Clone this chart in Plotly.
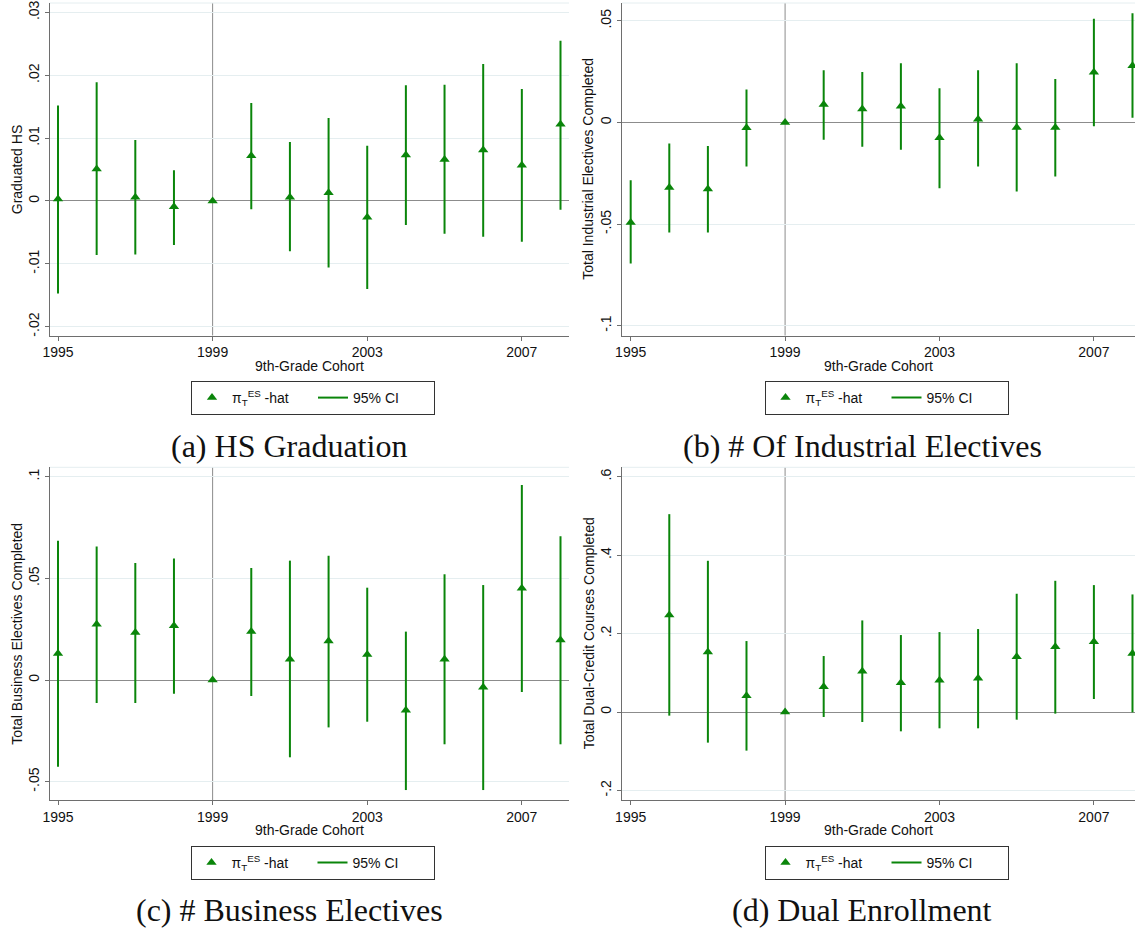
import plotly.graph_objects as go

# ---------------- data ----------------
years = [1995, 1996, 1997, 1998, 1999, 2000, 2001, 2002, 2003, 2004, 2005, 2006, 2007, 2008]
event_year = 1999

hs_est = [0.0003, 0.0051, 0.0006, -0.0009, 0.0, 0.0072, 0.0006, 0.0013, -0.0026, 0.0073, 0.0066, 0.0081, 0.0057, 0.0122]
hs_lo = [-0.0147, -0.0086, -0.0085, -0.0070, 0.0, -0.0013, -0.0080, -0.0106, -0.0140, -0.0038, -0.0052, -0.0057, -0.0065, -0.0014]
hs_hi = [0.0152, 0.0189, 0.0097, 0.0049, 0.0, 0.0156, 0.0094, 0.0132, 0.0088, 0.0184, 0.0185, 0.0218, 0.0178, 0.0255]

ind_est = [-0.0492, -0.0320, -0.0327, -0.0026, 0.0, 0.0088, 0.0067, 0.0080, -0.0075, 0.0016, -0.0025, -0.0025, 0.0247, 0.0279]
ind_lo = [-0.0694, -0.0541, -0.0541, -0.0217, 0.0, -0.0085, -0.0119, -0.0134, -0.0324, -0.0217, -0.0340, -0.0266, -0.0018, 0.0023]
ind_hi = [-0.0284, -0.0103, -0.0116, 0.0162, 0.0, 0.0257, 0.0248, 0.0292, 0.0168, 0.0257, 0.0291, 0.0214, 0.0511, 0.0537]

bus_est = [0.0131, 0.0274, 0.0234, 0.0267, 0.0, 0.0238, 0.0102, 0.0192, 0.0125, -0.0149, 0.0102, -0.0036, 0.0451, 0.0197]
bus_lo = [-0.0426, -0.0113, -0.0113, -0.0067, 0.0, -0.0079, -0.0380, -0.0233, -0.0205, -0.0541, -0.0316, -0.0541, -0.0059, -0.0316]
bus_hi = [0.0685, 0.0657, 0.0575, 0.0597, 0.0, 0.0551, 0.0587, 0.0611, 0.0454, 0.0238, 0.0520, 0.0467, 0.0959, 0.0707]

dual_est = [None, 0.2471, 0.1529, 0.0416, 0.0, 0.0645, 0.1036, 0.0747, 0.0807, 0.0858, 0.1410, 0.1665, 0.1792, 0.1495]
dual_lo = [None, -0.0093, -0.0781, -0.0985, 0.0, -0.0127, -0.0255, -0.0493, -0.0416, -0.0416, -0.0195, -0.0042, 0.0331, -0.0008]
dual_hi = [None, 0.5045, 0.3856, 0.1809, 0.0, 0.1427, 0.2335, 0.1962, 0.2038, 0.2115, 0.3015, 0.3346, 0.3236, 0.2998]

x_ticks = [1995, 1999, 2003, 2007]
x_ticklabels = ["1995", "1999", "2003", "2007"]

hs_ticks = [-0.02, -0.01, 0, 0.01, 0.02, 0.03]
hs_ticklabels = ["-.02", "-.01", "0", ".01", ".02", ".03"]
ind_ticks = [-0.1, -0.05, 0, 0.05]
ind_ticklabels = ["-.1", "-.05", "0", ".05"]
bus_ticks = [-0.05, 0, 0.05, 0.1]
bus_ticklabels = ["-.05", "0", ".05", ".1"]
dual_ticks = [-0.2, 0, 0.2, 0.4, 0.6]
dual_ticklabels = ["-.2", "0", ".2", ".4", ".6"]

y_titles = ["Graduated HS", "Total Industrial Electives Completed",
            "Total Business Electives Completed", "Total Dual-Credit Courses Completed"]
captions = ["(a) HS Graduation", "(b) # Of Industrial Electives",
            "(c) # Business Electives", "(d) Dual Enrollment"]
x_title = "9th-Grade Cohort"
est_name = "π<sub>T</sub><sup>ES</sup> -hat"
ci_name = "95% CI"

# ---------------- styling / layout ----------------
W, H = 1135, 928
GREEN = "#0a850a"
AXIS = "#6e6e6e"
GRID = "#e5eef0"
REF = "#8c8c8c"
TXT = "#111111"
SANS = "Liberation Sans, Arial, sans-serif"
SERIF = "Liberation Serif, Times New Roman, serif"
FS = 14


def fx(p):
    return p / W


def fy(p):
    return 1 - p / H


panels = [
    dict(est=hs_est, lo=hs_lo, hi=hs_hi, ticks=hs_ticks, labels=hs_ticklabels,
         yr=[-0.0214, 0.0315], xr=[1994.78, 2008.22],
         px=[49.5, 569], py=[3, 335.5], leg=(191, 381), cap=(289, 445.5), yt=17),
    dict(est=ind_est, lo=ind_lo, hi=ind_hi, ticks=ind_ticks, labels=ind_ticklabels,
         yr=[-0.1048, 0.0588], xr=[1994.775, 2008.065],
         px=[622, 1135], py=[3, 335.5], leg=(764.5, 381), cap=(862, 445.5), yt=588.5),
    dict(est=bus_est, lo=bus_lo, hi=bus_hi, ticks=bus_ticks, labels=bus_ticklabels,
         yr=[-0.059, 0.1046], xr=[1994.78, 2008.22],
         px=[49.5, 569], py=[467.3, 800], leg=(190.5, 846), cap=(289, 909.5), yt=17),
    dict(est=dual_est, lo=dual_lo, hi=dual_hi, ticks=dual_ticks, labels=dual_ticklabels,
         yr=[-0.2244, 0.624], xr=[1994.775, 2008.065],
         px=[622, 1135], py=[467.3, 800], leg=(764.5, 846), cap=(862, 909.5), yt=588.5),
]

fig = go.Figure()
layout = dict(
    width=W, height=H, autosize=False,
    margin=dict(l=0, r=0, t=0, b=0, autoexpand=False),
    paper_bgcolor="white", plot_bgcolor="white",
    font=dict(family=SANS, size=FS, color=TXT),
    showlegend=True,
)
annotations = []
shapes = []

for i, p in enumerate(panels):
    n = i + 1
    sfx = "" if n == 1 else str(n)
    xa, ya = "x" + sfx, "y" + sfx
    leg = "legend" + sfx

    cx, cy = [], []
    for yr, lo, hi in zip(years, p["lo"], p["hi"]):
        if lo is None or hi is None:
            continue
        cx += [yr, yr, None]
        cy += [lo, hi, None]

    fig.add_trace(go.Scatter(
        x=cx, y=cy, mode="lines", line=dict(color=GREEN, width=2),
        name=ci_name, legend=leg, legendrank=2, xaxis=xa, yaxis=ya,
        hoverinfo="skip", cliponaxis=False))
    fig.add_trace(go.Scatter(
        x=years, y=p["est"], mode="markers",
        marker=dict(symbol="triangle-up", size=9, color=GREEN, line=dict(width=0)),
        name=est_name, legend=leg, legendrank=1, xaxis=xa, yaxis=ya, cliponaxis=False))

    layout["xaxis" + sfx] = dict(
        domain=[fx(p["px"][0]), fx(p["px"][1])], anchor=ya, range=p["xr"],
        tickvals=x_ticks, ticktext=x_ticklabels, ticks="outside", ticklen=4,
        tickcolor=AXIS, showline=True, linecolor=AXIS, linewidth=1,
        showgrid=False, zeroline=False, tickfont=dict(size=FS, color=TXT))
    layout["yaxis" + sfx] = dict(
        domain=[fy(p["py"][1]), fy(p["py"][0])], anchor=xa, range=p["yr"],
        tickvals=p["ticks"], ticktext=p["labels"], tickangle=-90, ticks="outside",
        ticklen=4, tickcolor=AXIS, showline=True, linecolor=AXIS, linewidth=1,
        showgrid=True, gridcolor=GRID, gridwidth=1,
        zeroline=True, zerolinecolor=REF, zerolinewidth=1,
        tickfont=dict(size=FS, color=TXT))

    layout[leg] = dict(
        x=fx(p["leg"][0]), y=fy(p["leg"][1]), xanchor="left", yanchor="top",
        orientation="h", bordercolor="#333333", borderwidth=1, bgcolor="white",
        font=dict(family=SANS, size=FS, color=TXT),
        entrywidth=76, entrywidthmode="pixels", itemwidth=30)

    # reference line at the event year
    shapes.append(dict(type="line", xref=xa, yref=ya + " domain", x0=event_year, x1=event_year,
                       y0=0, y1=1, line=dict(color=REF, width=1), layer="below"))
    # faint plot-region top border
    shapes.append(dict(type="line", xref=xa + " domain", yref=ya + " domain", x0=0, x1=1,
                       y0=1, y1=1, line=dict(color=GRID, width=1), layer="below"))

    # axis titles
    annotations.append(dict(
        text=x_title, xref=xa + " domain", yref="paper", x=0.5, y=fy(p["py"][1] + 30),
        xanchor="center", yanchor="middle", showarrow=False,
        font=dict(family=SANS, size=FS, color=TXT)))
    annotations.append(dict(
        text=y_titles[i], xref="paper", yref="paper", x=fx(p["yt"]),
        y=fy((p["py"][0] + p["py"][1]) / 2), xanchor="center", yanchor="middle",
        textangle=-90, showarrow=False, font=dict(family=SANS, size=FS, color=TXT)))
    # caption
    annotations.append(dict(
        text=captions[i], xref="paper", yref="paper", x=fx(p["cap"][0]), y=fy(p["cap"][1]),
        xanchor="center", yanchor="middle", showarrow=False,
        font=dict(family=SERIF, size=32, color=TXT)))

layout["annotations"] = annotations
layout["shapes"] = shapes
fig.update_layout(**layout)

fig.write_html("out.html",
               config={"displayModeBar": False},
               post_script="document.body.style.margin='0';document.body.style.padding='0';")
